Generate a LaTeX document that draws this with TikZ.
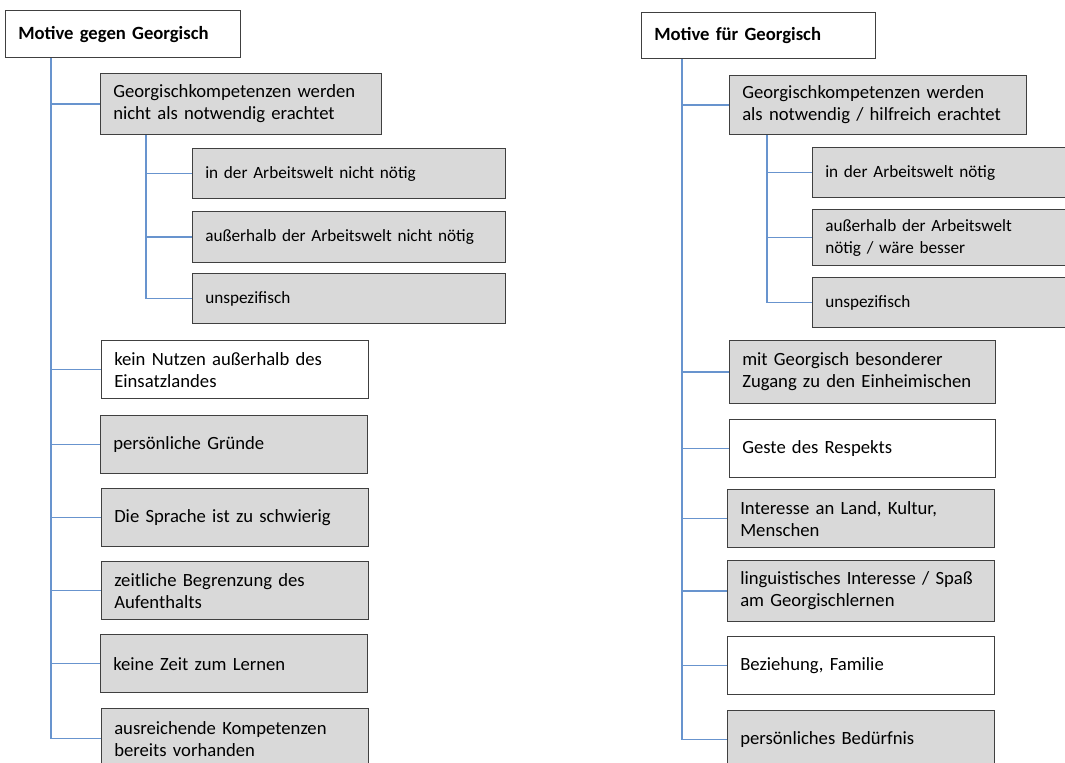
\documentclass[tikz,border=0pt]{standalone}
\usepackage{fontspec}
\setmainfont{Carlito}
\begin{document}
\begin{tikzpicture}[x=0.75pt,y=-0.75pt,
  base/.style={draw=black!75, line width=0.9pt, anchor=north west, align=left,
    inner xsep=9.5pt, inner ysep=1pt, font=\fontsize{14}{16.5}\selectfont},
  grey/.style={base, fill=black!15},
  plain/.style={base, fill=white},
  small/.style={font=\fontsize{12.9}{16.5}\selectfont},
  head/.style={plain, font=\fontsize{14}{16.5}\selectfont\bfseries},
  link/.style={draw={rgb,255:red,104;green,148;blue,206}, line width=1pt}]
\newcommand\tbox[7]{\node[#6, minimum width=#4*0.75pt, minimum height=#5*0.75pt,
  text width=#4*0.75pt-19pt] (#1) at (#2,#3) {#7};}
\useasboundingbox (0,0) rectangle (1065,763);
\clip (0,0) rectangle (1065,763);
\fill[white] (0,0) rectangle (1065,763);

% ---- left column: reasons against learning Georgian
\tbox{tL}{5}{10}{235}{47}{head}{Motive gegen Georgisch}
\tbox{aL}{100}{73}{281}{61}{grey}{Georgischkompetenzen werden\\nicht als notwendig erachtet}
\tbox{aL1}{192}{148}{313}{50}{grey,small}{in der Arbeitswelt nicht nötig}
\tbox{aL2}{192}{211}{313}{51}{grey,small}{außerhalb der Arbeitswelt nicht nötig}
\tbox{aL3}{192}{273}{313}{50}{grey,small}{unspezifisch}
\tbox{bL1}{101}{340}{267}{58}{plain}{kein Nutzen außerhalb des\\Einsatzlandes}
\tbox{bL2}{100}{415}{267}{58}{grey}{persönliche Gründe}
\tbox{bL3}{101}{488}{267}{58}{grey}{Die Sprache ist zu schwierig}
\tbox{bL4}{101}{561}{267}{58}{grey}{zeitliche Begrenzung des\\Aufenthalts}
\tbox{bL5}{100}{634}{267}{58}{grey}{keine Zeit zum Lernen}
\tbox{bL6}{101}{708}{267}{60}{grey}{ausreichende Kompetenzen\\bereits vorhanden}

\coordinate (trL) at ([xshift=46*0.75pt]tL.south west);
\coordinate (stL) at ([xshift=46*0.75pt]aL.south west);
\foreach \n in {aL,bL1,bL2,bL3,bL4,bL5,bL6} \draw[link] (trL) |- (\n.west);
\foreach \n in {aL1,aL2,aL3} \draw[link] (stL) |- (\n.west);

% ---- right column: reasons for learning Georgian
\tbox{tR}{641}{12}{234}{46}{head}{Motive für Georgisch}
\tbox{aR}{729}{75}{297}{59}{grey}{Georgischkompetenzen werden\\als notwendig / hilfreich erachtet}
\tbox{aR1}{812}{147}{262}{50}{grey,small}{in der Arbeitswelt nötig}
\tbox{aR2}{812}{209}{262}{56}{grey,small}{außerhalb der Arbeitswelt\\nötig / wäre besser}
\tbox{aR3}{812}{277}{262}{50}{grey,small}{unspezifisch}
\tbox{bR1}{729}{340}{266}{63}{grey}{mit Georgisch besonderer\\Zugang zu den Einheimischen}
\tbox{bR2}{729}{419}{266}{58}{plain}{Geste des Respekts}
\tbox{bR3}{727}{489}{267}{58}{grey}{Interesse an Land, Kultur,\\Menschen}
\tbox{bR4}{727}{560}{267}{61}{grey}{linguistisches Interesse / Spaß\\am Georgischlernen}
\tbox{bR5}{727}{636}{267}{58}{plain}{Beziehung, Familie}
\tbox{bR6}{727}{710}{267}{58}{grey}{persönliches Bedürfnis}

\coordinate (trR) at ([xshift=41*0.75pt]tR.south west);
\coordinate (stR) at ([xshift=38*0.75pt]aR.south west);
\foreach \n in {aR,bR1,bR2,bR3,bR4,bR5,bR6} \draw[link] (trR) |- (\n.west);
\foreach \n in {aR1,aR2,aR3} \draw[link] (stR) |- (\n.west);
\end{tikzpicture}
\end{document}
